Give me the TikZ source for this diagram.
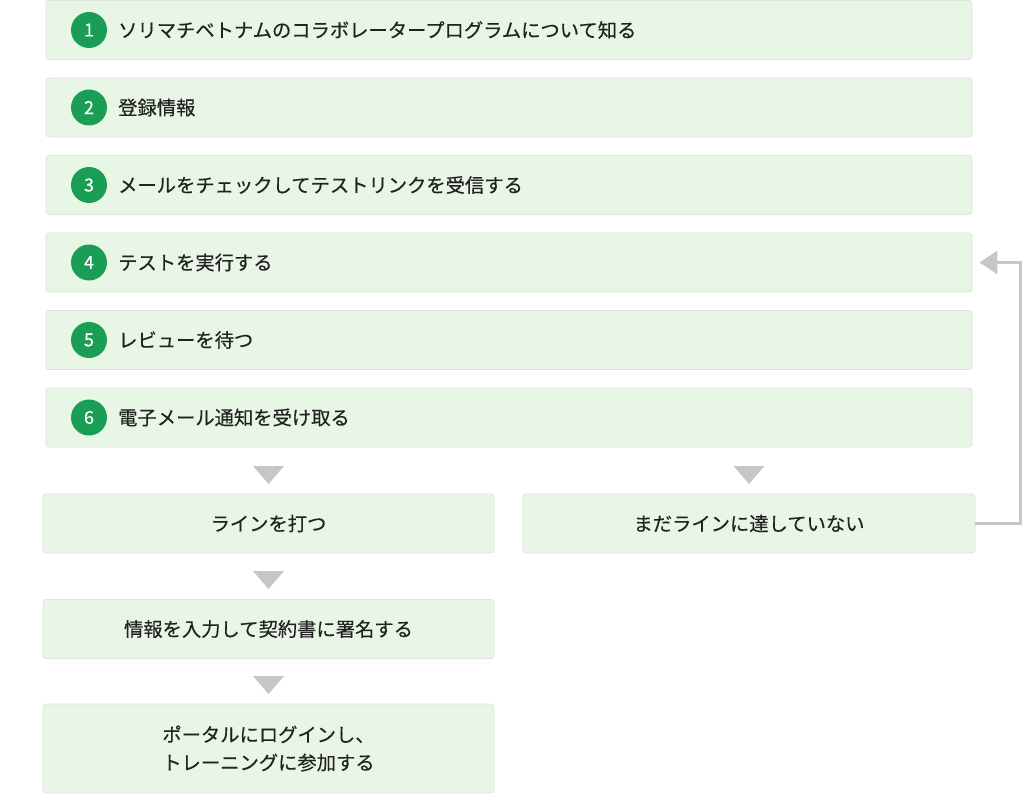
\documentclass[tikz,border=0pt]{standalone}
\usepackage{fontspec}
\setmainfont{Noto Sans CJK JP}[FakeBold=0.35]
\usetikzlibrary{positioning,arrows.meta}
\definecolor{boxfill}{HTML}{E8F6E5}
\definecolor{boxline}{HTML}{DDE4DB}
\definecolor{stepgreen}{HTML}{1A9E55}
\definecolor{arrowgray}{HTML}{C6C6C6}
\definecolor{inkdark}{HTML}{222222}
\tikzset{
  stepbox/.style={draw=boxline, fill=boxfill, line width=0.8pt, rounded corners=3pt,
    minimum width=926pt, minimum height=59pt},
  flowbox/.style={stepbox, minimum width=451pt, text=inkdark, align=center,
    font=\fontsize{19.3}{28}\selectfont},
  stepnum/.style={circle, fill=stepgreen, minimum size=36pt, inner sep=0pt, text=white,
    font=\fontsize{18}{18}\selectfont},
  steptext/.style={anchor=west, inner sep=0pt, text=inkdark, font=\fontsize{19.3}{24}\selectfont},
  downtri/.style={fill=arrowgray}
}
\begin{document}
\begin{tikzpicture}[x=1pt,y=-1pt]
\useasboundingbox (0,0) rectangle (1024,794);
% numbered steps
\foreach \t [count=\i] in {ソリマチベトナムのコラボレータープログラムについて知る, 登録情報,
  メールをチェックしてテストリンクを受信する, テストを実行する, レビューを待つ, 電子メール通知を受け取る} {
  \node[stepbox] (s\i) at ({509},{30+77.5*(\i-1)}) {};
  \node[stepnum] (n\i) at ({89},{30+77.5*(\i-1)}) {\i};
  \node[steptext] (t\i) at ({118},{30+77.5*(\i-1)}) {\t};
}
% result branches
\node[flowbox] (hit) at (268.5,523.5) {ラインを打つ};
\node[flowbox, minimum width=452pt] (miss) at (749,523.5) {まだラインに達していない};
\node[flowbox] (sign) at (268.5,629) {情報を入力して契約書に署名する};
\node[flowbox, minimum height=89pt] (portal) at (268.5,748.5) {ポータルにログインし、\\トレーニングに参加する};
% down arrows
\foreach \x/\y in {268.5/466, 749/466, 268.5/571, 268.5/676}
  \fill[downtri] (\x-15.5,\y) -- (\x+15.5,\y) -- (\x,\y+18) -- cycle;
% back to step 4
\coordinate (loop) at (1020,523.5);
\draw[arrowgray, line width=3pt, -{Triangle[length=18pt,width=23pt]}]
  (miss.east) -- (loop) |- ([xshift=7pt]s4.east);
\end{tikzpicture}
\end{document}
